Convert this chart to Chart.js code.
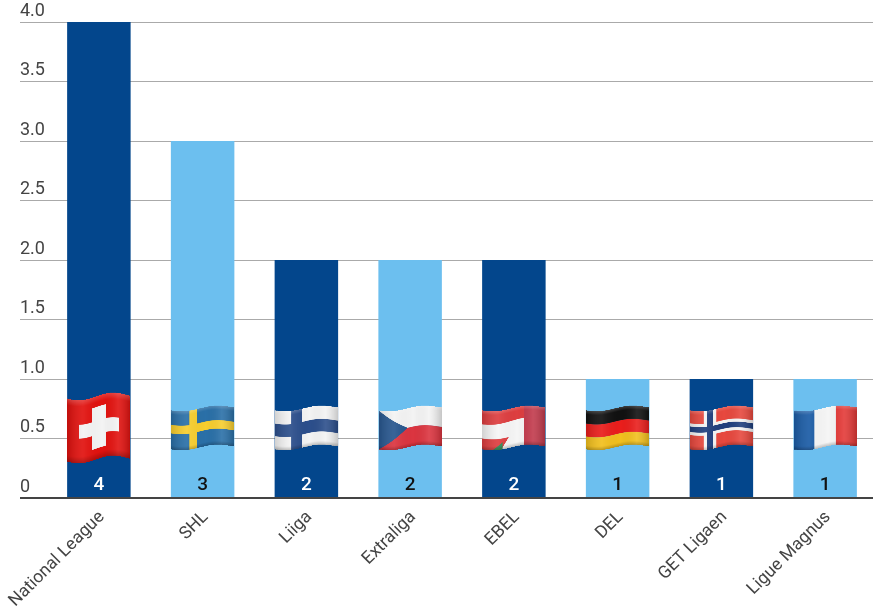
<!DOCTYPE html>
<html>
<head>
<meta charset="utf-8">
<style>
    html, body { margin: 0; padding: 0; background: #fff; overflow: hidden; }
    canvas { display: block; }
</style>
<script src="https://cdn.jsdelivr.net/npm/chart.js@4/dist/chart.umd.js"></script>
</head>
<body>
<canvas id="leagues-chart" width="877" height="607"></canvas>
<script>
// Chart data
const leagues = ['National League', 'SHL', 'Liiga', 'Extraliga', 'EBEL', 'DEL', 'GET Ligaen', 'Ligue Magnus'];
const playerCounts = [4, 3, 2, 2, 2, 1, 1, 1];
const flagNames = ['swiss', 'sweden', 'finland', 'czech', 'austria', 'germany', 'norway', 'france'];
const yTicks = [0, 0.5, 1, 1.5, 2, 2.5, 3, 3.5, 4];

const NAVY = '#03468C';
const SKY = '#6CBFEF';
const barColors = leagues.map((_, i) => (i % 2 === 0 ? NAVY : SKY));

// Flags are painted on a unit square (fractions of width and height)
const flagPainters = {
    swiss(p) {
        p.rect('#E2120F', 0, 0, 1, 1);
        p.rect('#F4F4F4', 0.18, 0.39, 0.64, 0.22);
        p.rect('#F4F4F4', 0.39, 0.17, 0.22, 0.66);
    },
    sweden(p) {
        p.rect('#2A70A8', 0, 0, 1, 1);
        p.rect('#F8CE2E', 0, 0.37, 1, 0.22);
        p.rect('#F8CE2E', 0.29, 0, 0.12, 1);
    },
    finland(p) {
        p.rect('#F4F4F4', 0, 0, 1, 1);
        p.rect('#2C4F8C', 0, 0.34, 1, 0.32);
        p.rect('#2C4F8C', 0.26, 0, 0.17, 1);
    },
    czech(p) {
        p.rect('#F4F4F4', 0, 0, 1, 0.5);
        p.rect('#DC3540', 0, 0.5, 1, 0.5);
        p.poly('#28578F', [[0, 0], [0.46, 0.5], [0, 1]]);
    },
    austria(p) {
        p.rect('#DE3E40', 0, 0, 1, 1);
        p.poly('#F6F6F6', [[0, 0.36], [0.74, 0.3], [0.66, 0.42], [0.66, 1], [0.3, 1], [0.42, 0.72], [0, 0.72]]);
        p.rect('#C23A4C', 0.66, 0, 0.34, 1);
        p.poly('#C23A4C', [[0.66, 0.42], [0.74, 0.3], [0.9, 0], [1, 0], [0.66, 0.5]]);
        p.poly('#2E8A56', [[0.16, 1], [0.32, 0.82], [0.32, 1]]);
    },
    germany(p) {
        p.rect('#111111', 0, 0, 1, 0.34);
        p.rect('#EA1E1C', 0, 0.34, 1, 0.33);
        p.rect('#F2C01E', 0, 0.67, 1, 0.33);
    },
    norway(p) {
        p.rect('#E8483E', 0, 0, 1, 1);
        p.rect('#F4F4F4', 0, 0.33, 1, 0.3);
        p.rect('#F4F4F4', 0.22, 0, 0.2, 1);
        p.rect('#1F3F7E', 0, 0.41, 1, 0.14);
        p.rect('#1F3F7E', 0.27, 0, 0.1, 1);
    },
    france(p) {
        p.rect('#1B5CA6', 0, 0, 1, 1);
        p.rect('#F6F6F6', 0.33, 0, 0.34, 1);
        p.rect('#E43A38', 0.67, 0, 0.33, 1);
    }
};

const FLAG_LEVEL = 0.59; // axis value the flags are centred on
const FLAG_SS = 3;

// Draws one waving flag on its own canvas, then copies it column by column
function buildFlag(name, w, h) {
    const amp = Math.round(h * 0.055);
    const flat = document.createElement('canvas');
    flat.width = w * FLAG_SS;
    flat.height = h * FLAG_SS;
    const f = flat.getContext('2d');
    const painter = {
        rect(color, x, y, rw, rh) {
            f.fillStyle = color;
            f.fillRect(x * flat.width, y * flat.height, rw * flat.width, rh * flat.height);
        },
        poly(color, pts) {
            f.fillStyle = color;
            f.beginPath();
            pts.forEach(([x, y]) => f.lineTo(x * flat.width, y * flat.height));
            f.closePath();
            f.fill();
        }
    };
    flagPainters[name](painter);

    // Horizontal folds
    const folds = f.createLinearGradient(0, 0, flat.width, 0);
    folds.addColorStop(0, 'rgba(0,0,0,0.14)');
    folds.addColorStop(0.25, 'rgba(255,255,255,0.08)');
    folds.addColorStop(0.55, 'rgba(0,0,0,0)');
    folds.addColorStop(0.8, 'rgba(255,255,255,0.10)');
    folds.addColorStop(1, 'rgba(0,0,0,0.18)');
    f.fillStyle = folds;
    f.fillRect(0, 0, flat.width, flat.height);

    // Lighter top rim, darker bottom rim
    const rim = f.createLinearGradient(0, 0, 0, flat.height);
    rim.addColorStop(0, 'rgba(255,255,255,0.18)');
    rim.addColorStop(0.1, 'rgba(255,255,255,0)');
    rim.addColorStop(0.9, 'rgba(0,0,0,0)');
    rim.addColorStop(1, 'rgba(0,0,0,0.22)');
    f.fillStyle = rim;
    f.fillRect(0, 0, flat.width, flat.height);

    const out = document.createElement('canvas');
    out.width = flat.width;
    out.height = flat.height + (amp * 2 + 4) * FLAG_SS;
    const o = out.getContext('2d');
    for (let col = 0; col < flat.width; col++) {
        const t = col / flat.width;
        const dy = (amp * Math.sin(2 * Math.PI * (t + 0.05)) - 3 * (t - 0.5) + amp + 2) * FLAG_SS;
        o.drawImage(flat, col, 0, 1, flat.height, col, dy, 1, flat.height);
    }
    return out;
}

const flagPlugin = {
    id: 'flagPlugin',
    afterDatasetsDraw(chart) {
        const { ctx, scales: { x, y } } = chart;
        const meta = chart.getDatasetMeta(0);
        flagNames.forEach((name, i) => {
            const w = Math.round(meta.data[i].width);
            const h = name === 'swiss' ? 63 : 39;
            const img = buildFlag(name, w, h);
            const drawH = img.height / FLAG_SS;
            ctx.save();
            ctx.filter = 'blur(0.6px)';
            ctx.drawImage(img, x.getPixelForValue(i) - w / 2, y.getPixelForValue(FLAG_LEVEL) - drawH / 2, w, drawH);
            ctx.restore();
        });
    }
};

// Value written at the foot of each bar
const footLabelPlugin = {
    id: 'footLabelPlugin',
    afterDatasetsDraw(chart) {
        const { ctx, scales: { x, y } } = chart;
        ctx.save();
        ctx.font = '500 19px Roboto';
        ctx.textAlign = 'center';
        ctx.textBaseline = 'middle';
        playerCounts.forEach((value, i) => {
            ctx.fillStyle = i % 2 === 0 ? '#FFFFFF' : '#111111';
            ctx.fillText(String(value), x.getPixelForValue(i), y.getPixelForValue(0) - 13);
        });
        ctx.restore();
    }
};

new Chart(document.getElementById('leagues-chart'), {
    type: 'bar',
    data: {
        labels: leagues,
        datasets: [{
            data: playerCounts,
            backgroundColor: barColors,
            borderWidth: 0,
            barPercentage: 0.612,
            categoryPercentage: 1
        }]
    },
    plugins: [flagPlugin, footLabelPlugin],
    options: {
        responsive: false,
        animation: false,
        devicePixelRatio: 1,
        layout: { padding: { left: 20, top: 22, right: 0, bottom: 0 }, autoPadding: false },
        plugins: { legend: { display: false }, tooltip: { enabled: false } },
        scales: {
            x: {
                grid: { display: false },
                border: { display: true, color: '#444444', width: 2, z: 1 },
                afterFit(scale) { scale.height = 109; },
                ticks: {
                    autoSkip: false,
                    minRotation: 45,
                    maxRotation: 45,
                    padding: 1,
                    labelOffset: 3,
                    color: '#444444',
                    font: { family: 'Roboto', size: 17.5 }
                }
            },
            y: {
                min: 0,
                max: 4,
                afterFit(scale) { scale.width = 27; },
                afterBuildTicks(scale) { scale.ticks = yTicks.map(value => ({ value })); },
                border: { display: false },
                grid: {
                    tickLength: 27,
                    color: ctx => (ctx.tick.value === 0 ? '#444444' : '#AAAAAA'),
                    tickColor: ctx => (ctx.tick.value === 0 ? '#444444' : '#AAAAAA'),
                    tickWidth: ctx => (ctx.tick.value === 0 ? 2 : 1),
                    lineWidth: ctx => (ctx.tick.value === 0 ? 2 : 1)
                },
                ticks: {
                    crossAlign: 'far',
                    padding: 0,
                    labelOffset: -11,
                    color: '#444444',
                    font: { family: 'Roboto', size: 18 },
                    callback: value => (value === 0 ? '0' : value.toFixed(1))
                }
            }
        }
    }
});
</script>
</body>
</html>
